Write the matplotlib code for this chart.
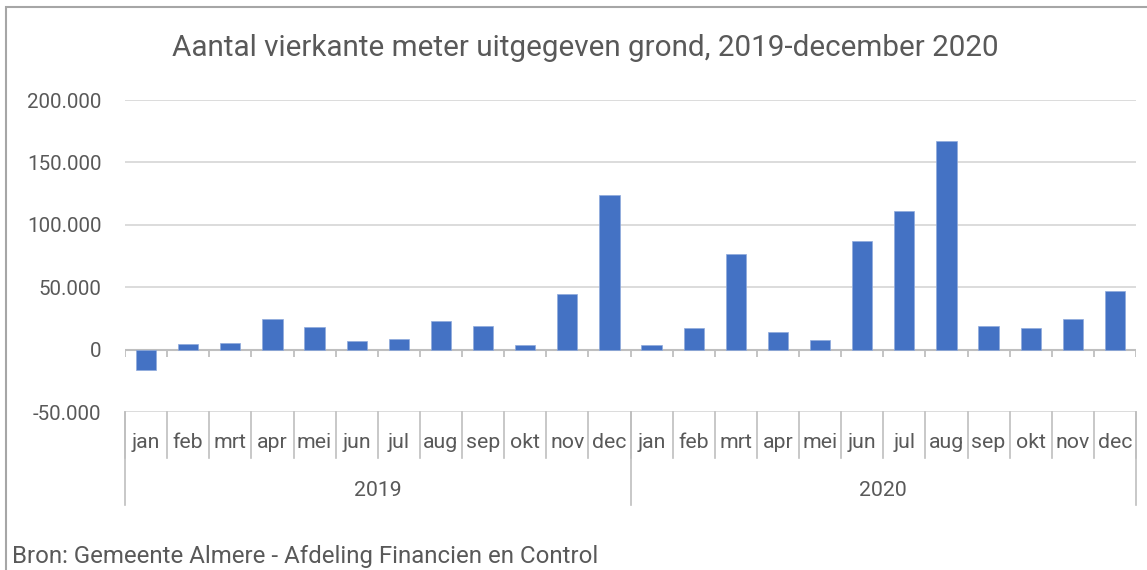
import matplotlib.pyplot as plt
from matplotlib.patches import Rectangle
import matplotlib.transforms as mtrans

plt.rcParams['font.family'] = ['Roboto', 'DejaVu Sans']

months = ['jan', 'feb', 'mrt', 'apr', 'mei', 'jun', 'jul', 'aug', 'sep', 'okt', 'nov', 'dec']
years = ['2019', '2020']
m2019 = [-16500, 4500, 5600, 24300, 18100, 7200, 8800, 22700, 18900, 4000, 44800, 123700]
m2020 = [3500, 17600, 76700, 14400, 8000, 87400, 110900, 167400, 19200, 17600, 24800, 46700]
yticks = [-50000, 0, 50000, 100000, 150000, 200000]

title = 'Aantal vierkante meter uitgegeven grond, 2019-december 2020'
source = 'Bron: Gemeente Almere - Afdeling Financien en Control'

txt = '#595959'
grid = '#D9D9D9'
axc = '#BFBFBF'
bar_c = '#4472C4'

W, H = 1147, 570
fig = plt.figure(figsize=(W / 100, H / 100), dpi=100)

# outer chart frame (runs off the right/bottom edge)
fig.patches.append(Rectangle((6 / W, -0.1), 1.2, 1 - 7 / H + 0.1, transform=fig.transFigure,
                             fill=False, edgecolor='#A6A6A6', linewidth=1.5))

left, right, top, bot = 125, 1136, 100, 412
ax = fig.add_axes([left / W, 1 - bot / H, (right - left) / W, (bot - top) / H])

vals = m2019 + m2020
labels = months + months
x = list(range(len(vals)))
ax.bar(x, vals, width=0.48, color=bar_c, edgecolor='#8FAADC', linewidth=0.5, zorder=3)

ax.set_xlim(-0.5, len(vals) - 0.5)
ax.set_ylim(-50000, 200000)
for s in ax.spines.values():
    s.set_visible(False)
ax.set_yticks(yticks)
ax.set_yticklabels([f'{v:,}'.replace(',', '.') for v in yticks])
ax.tick_params(axis='y', length=0, pad=17, labelsize=14.8, labelcolor=txt)
ax.set_xticks([])
for v in yticks:
    ax.axhline(v, color=grid, linewidth=1.3, zorder=1)
ax.axhline(0, color=axc, linewidth=1.5, zorder=2)

# small ticks on zero line at category boundaries
bnd = [i - 0.5 for i in range(len(vals) + 1)]
ax.vlines(bnd, -5600, 0, color=axc, linewidth=1.3, zorder=2)

# multi-level category axis
tr = mtrans.blended_transform_factory(ax.transData, ax.transAxes)
ph = bot - top
for b in bnd:
    ax.plot([b, b], [0, -46 / ph], color=axc, lw=1.2, transform=tr, clip_on=False)
for b in [-0.5, 11.5, 23.5]:
    ax.plot([b, b], [0, -93 / ph], color=axc, lw=1.2, transform=tr, clip_on=False)
for i, lab in enumerate(labels):
    ax.text(i, -31 / ph, lab, transform=tr, ha='center', va='center', fontsize=15.3, color=txt)
for j, yr in enumerate(years):
    ax.text(5.5 + 12 * j, -78 / ph, yr, transform=tr, ha='center', va='center', fontsize=15.3, color=txt)

fig.text(585 / W, 1 - 48 / H, title, ha='center', va='center', fontsize=21.3, color=txt)
fig.text(12 / W, 1 - 556 / H, source, ha='left', va='center', fontsize=17.3, color=txt)

fig.savefig('out.png', dpi=100)
